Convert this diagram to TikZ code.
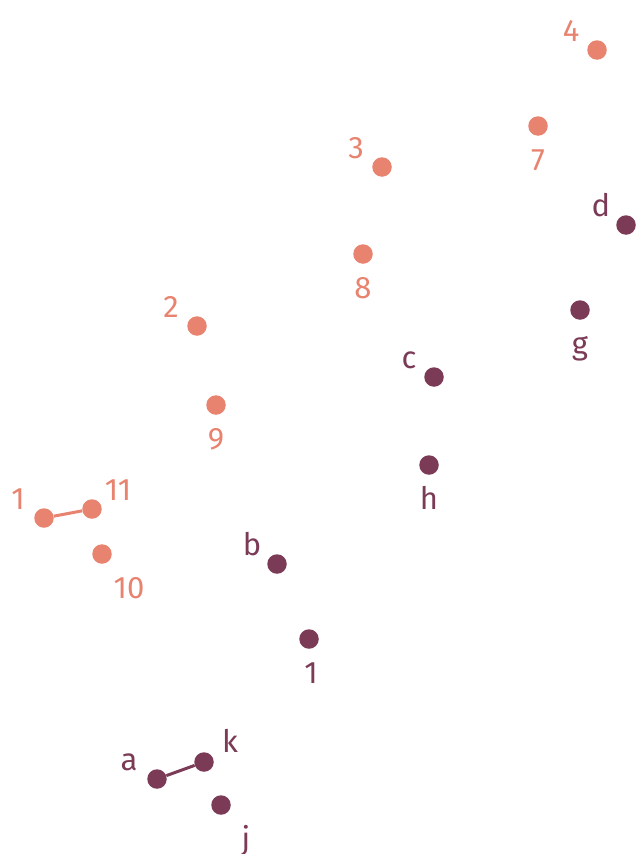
\documentclass[tikz,border=0pt]{standalone}
\usepackage{fontspec}
\setmainfont{Fira Sans}
\usepackage{xcolor}
\usepackage{tikz}
\usetikzlibrary{positioning}
\definecolor{salmon}{HTML}{E8836F}
\definecolor{plum}{HTML}{7B3B56}

\begin{document}
\begin{tikzpicture}[
  x=1pt, y=-1pt,
  sdot/.style={circle, fill=salmon, inner sep=0pt, minimum size=19.5pt},
  pdot/.style={circle, fill=plum, inner sep=0pt, minimum size=19.5pt},
  slab/.style={anchor=base, inner sep=0pt, text=salmon, font=\fontsize{31}{36}\selectfont},
  plab/.style={anchor=base, inner sep=0pt, text=plum, font=\fontsize{31}{36}\selectfont},
  link/.style={line width=3pt},
]
  \useasboundingbox (0,0) rectangle (642,854);

  % salmon points
  \node[sdot] (s1) at (44,518) {};
  \node[sdot] (s11) at (92,509) {};
  \node[sdot] (s10) at (102,554) {};
  \node[sdot] (s2) at (197,326) {};
  \node[sdot] (s9) at (216,405) {};
  \node[sdot] (s3) at (382,167) {};
  \node[sdot] (s8) at (363,254) {};
  \node[sdot] (s4) at (597,50) {};
  \node[sdot] (s7) at (538,126) {};

  \draw[link, salmon] (s1) -- (s11);

  \node[slab] (ls1) at ([shift={(-26,-9)}]s1) {1};
  \node[slab] (ls11) at ([shift={(26,-9)}]s11) {11};
  \node[slab] (ls10) at ([shift={(27,44)}]s10) {10};
  \node[slab] (ls2) at ([shift={(-26,-9)}]s2) {2};
  \node[slab] (ls9) at ([shift={(0,44)}]s9) {9};
  \node[slab] (ls3) at ([shift={(-26,-9)}]s3) {3};
  \node[slab] (ls8) at ([shift={(0,44)}]s8) {8};
  \node[slab] (ls4) at ([shift={(-26,-9)}]s4) {4};
  \node[slab] (ls7) at ([shift={(0,44)}]s7) {7};

  % plum points
  \node[pdot] (pd) at (626,225) {};
  \node[pdot] (pg) at (580,310) {};
  \node[pdot] (pc) at (434,377) {};
  \node[pdot] (ph) at (429,465) {};
  \node[pdot] (pb) at (277,564) {};
  \node[pdot] (p1) at (309,639) {};
  \node[pdot] (pa) at (157,779) {};
  \node[pdot] (pk) at (204,762) {};
  \node[pdot] (pj) at (221,805) {};

  \draw[link, plum] (pa) -- (pk);

  \node[plab] (lpd) at ([shift={(-25,-9)}]pd) {d};
  \node[plab] (lpg) at ([shift={(0,44)}]pg) {g};
  \node[plab] (lpc) at ([shift={(-25,-9)}]pc) {c};
  \node[plab] (lph) at ([shift={(0,44)}]ph) {h};
  \node[plab] (lpb) at ([shift={(-25,-9)}]pb) {b};
  \node[plab] (lp1) at ([shift={(2,44)}]p1) {1};
  \node[plab] (lpa) at ([shift={(-28,-9)}]pa) {a};
  \node[plab] (lpk) at ([shift={(26,-10)}]pk) {k};
  \node[plab] (lpj) at ([shift={(25,44)}]pj) {j};
\end{tikzpicture}
\end{document}
